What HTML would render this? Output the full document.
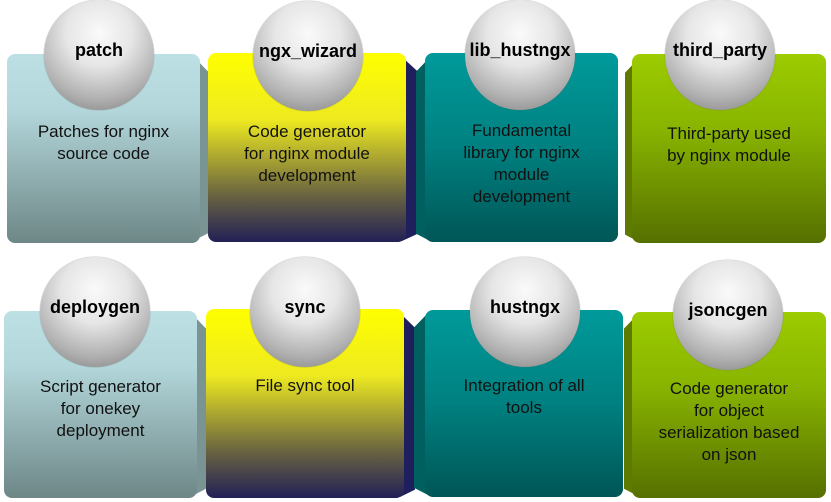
<!DOCTYPE html>
<html><head><meta charset="utf-8"><style>
body{margin:0;width:831px;height:502px;background:#fff;position:relative;overflow:hidden;font-family:"Liberation Sans",sans-serif}
.b{position:absolute;border-radius:8px}
.s{position:absolute}
.t{position:absolute;text-align:center;font-size:17px;line-height:22px;color:#111}
.c{position:absolute;width:110px;height:110px;border-radius:50%;background:radial-gradient(circle at 50% 30%,#fafafa 0%,#e6e6e6 35%,#b0b0b0 70%,#767676 100%);box-shadow:0 0 1px #666;font-weight:bold;font-size:18px;text-align:center;line-height:20px;color:#000}
.c span{position:absolute;left:0;right:0;top:40px}
.g1{background:linear-gradient(#bde0e4,#b2d6da 30%,#6e8787)}
.g2{background:linear-gradient(#ffff00,#eeea20 35%,#6a6440 75%,#222056)}
.g3{background:linear-gradient(#009a9a,#008080 50%,#005656)}
.g4{background:linear-gradient(#9ccc00,#88b400 40%,#567000)}
</style></head><body>
<div class="s" style="left:195px;top:58px;width:14px;height:182px;background:#7a9494;clip-path:polygon(0 0,100% 8%,100% 96%,0 100%)"></div>
<div class="b g1" style="left:7px;top:54px;width:193px;height:189px"></div>
<div class="s" style="left:402px;top:57px;width:16px;height:184px;background:#201f5e;clip-path:polygon(0 0,100% 8%,100% 96%,0 100%)"></div>
<div class="b g2" style="left:208px;top:53px;width:198px;height:189px"></div>
<div class="s" style="left:416px;top:57px;width:14px;height:184px;background:#006060;clip-path:polygon(0 8%,100% 0,100% 100%,0 96%)"></div>
<div class="b g3" style="left:425px;top:53px;width:193px;height:189px"></div>
<div class="s" style="left:625px;top:58px;width:14px;height:184px;background:#5e7a00;clip-path:polygon(0 8%,100% 0,100% 100%,0 96%)"></div>
<div class="b g4" style="left:632px;top:54px;width:194px;height:189px"></div>
<div class="s" style="left:192px;top:314px;width:14px;height:182px;background:#7a9494;clip-path:polygon(0 0,100% 8%,100% 96%,0 100%)"></div>
<div class="b g1" style="left:4px;top:311px;width:193px;height:187px"></div>
<div class="s" style="left:400px;top:313px;width:15px;height:184px;background:#201f5e;clip-path:polygon(0 0,100% 8%,100% 96%,0 100%)"></div>
<div class="b g2" style="left:206px;top:309px;width:198px;height:189px"></div>
<div class="s" style="left:414px;top:313px;width:14px;height:182px;background:#006060;clip-path:polygon(0 8%,100% 0,100% 100%,0 96%)"></div>
<div class="b g3" style="left:425px;top:310px;width:198px;height:187px"></div>
<div class="s" style="left:624px;top:314px;width:14px;height:182px;background:#5e7a00;clip-path:polygon(0 8%,100% 0,100% 100%,0 96%)"></div>
<div class="b g4" style="left:632px;top:312px;width:194px;height:186px"></div>
<div class="c" style="left:44px;top:0px"><span>patch</span></div>
<div class="c" style="left:253px;top:1px"><span>ngx_wizard</span></div>
<div class="c" style="left:465px;top:0px"><span>lib_hustngx</span></div>
<div class="c" style="left:665px;top:0px"><span>third_party</span></div>
<div class="c" style="left:40px;top:257px"><span>deploygen</span></div>
<div class="c" style="left:250px;top:257px"><span>sync</span></div>
<div class="c" style="left:470px;top:257px"><span>hustngx</span></div>
<div class="c" style="left:673px;top:260px"><span>jsoncgen</span></div>
<div class="t" style="left:7px;width:193px;top:121px">Patches for nginx<br>source code</div>
<div class="t" style="left:208px;width:198px;top:121px">Code generator<br>for nginx module<br>development</div>
<div class="t" style="left:425px;width:193px;top:120px">Fundamental<br>library for nginx<br>module<br>development</div>
<div class="t" style="left:632px;width:194px;top:123px">Third-party used<br>by nginx module</div>
<div class="t" style="left:4px;width:193px;top:376px">Script generator<br>for onekey<br>deployment</div>
<div class="t" style="left:206px;width:198px;top:375px">File sync tool</div>
<div class="t" style="left:425px;width:198px;top:375px">Integration of all<br>tools</div>
<div class="t" style="left:632px;width:194px;top:378px">Code generator<br>for object<br>serialization based<br>on json</div>
</body></html>
